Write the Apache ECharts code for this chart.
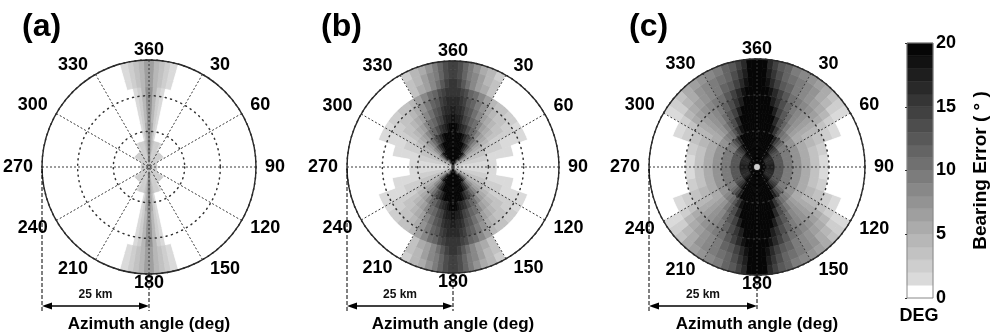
<!DOCTYPE html>
<html><head><meta charset="utf-8">
<script src="https://cdn.jsdelivr.net/npm/echarts@6/dist/echarts.min.js"></script>
<style>html,body{margin:0;padding:0;background:#fff}#c{width:991px;height:335px}</style>
</head><body><div id="c"></div>
<script>
// ---------------- data ----------------
const PANEL_TITLES = ['(a)', '(b)', '(c)'];
const ANGLE_TICKS = [0, 30, 60, 90, 120, 150, 180, 210, 240, 270, 300, 330];
const ANGLE_LABELS = ['360', '30', '60', '90', '120', '150', '180', '210', '240', '270', '300', '330'];
const RADIUS_KM = 25;
const SCALE_LABEL = '25 km';
const AXIS_TITLE = 'Azimuth angle (deg)';
// ring edges (km from centre) and angular bin edges (deg away from the N-S axis)
const RING_EDGES_KM = [0, 2.08, 4.17, 6.25, 8.33, 10.42, 12.5, 14.58, 16.67, 18.75, 20.83, 22.92, 25];
const THETA_EDGES = [0, 3, 6, 9, 12, 16, 20, 25, 30, 35, 40, 45, 50, 55, 60, 70, 80, 90];
// bearing error (deg) per ring (rows, inner->outer) and angular bin (cols)
const ERR_A = [
  [20,14,9,6,4,3,2,2,2,2,2,2,2,2,2,2,2],
  [11,7,5,3,2,2,2,2,2,2,2,2,2,1,0,0,0],
  [9,6,4,3,2,2,2,1,0,0,0,0,0,0,0,0,0],
  [8,5,3,1,0,0,0,0,0,0,0,0,0,0,0,0,0],
  [7,5,2,1,0,0,0,0,0,0,0,0,0,0,0,0,0],
  [7,4,2,1,0,0,0,0,0,0,0,0,0,0,0,0,0],
  [7,4,2,1,0,0,0,0,0,0,0,0,0,0,0,0,0],
  [7,4,2,1,0,0,0,0,0,0,0,0,0,0,0,0,0],
  [7,4,2,1,0,0,0,0,0,0,0,0,0,0,0,0,0],
  [6,4,3,2,1,0,0,0,0,0,0,0,0,0,0,0,0],
  [6,4,3,2,1,0,0,0,0,0,0,0,0,0,0,0,0],
  [6,4,3,2,1,0,0,0,0,0,0,0,0,0,0,0,0]
];
const ERR_B = [
  [20,20,20,20,20,19,17,15,12,10,8,6,5,4,3,2,2],
  [20,20,20,20,20,20,20,20,19,17,13,10,7,5,3,2,1],
  [20,20,20,20,20,20,19,17,15,12,9,7,5,4,3,2,1],
  [20,20,20,20,19,18,16,14,12,10,8,6,5,4,3,2,1],
  [19,19,18,17,16,15,13,11,10,8,6,5,4,3,2,1,1],
  [18,17,17,16,14,13,11,10,8,6,5,4,3,2,2,1,0],
  [17,16,16,15,13,12,10,8,6,5,4,3,3,2,1,1,0],
  [16,16,15,14,12,11,9,7,5,4,3,3,2,2,1,0,0],
  [15,15,14,13,11,10,8,6,4,3,3,2,2,1,1,0,0],
  [15,14,12,10,8,6,5,3,0,0,0,0,0,0,0,0,0],
  [14,13,11,9,8,6,4,3,0,0,0,0,0,0,0,0,0],
  [14,13,11,9,7,5,4,2,0,0,0,0,0,0,0,0,0]
];
const ERR_C = [
  [20,20,20,20,20,20,20,20,20,20,20,20,20,20,20,20,20],
  [20,20,20,20,20,20,20,20,20,19,18,17,16,16,16,16,17],
  [20,20,20,20,20,20,20,20,19,17,15,14,13,12,12,12,12],
  [20,20,20,20,20,20,20,19,17,14,12,10,9,9,9,9,9],
  [20,20,20,20,20,20,18,15,12,10,9,8,7,7,7,7,7],
  [20,20,20,20,20,19,16,13,11,9,7,6,5,5,5,5,5],
  [20,20,20,20,19,17,14,12,10,8,7,6,5,4,4,3,3],
  [20,20,20,19,17,15,13,11,9,8,7,6,5,4,3,2,1],
  [20,20,19,18,16,14,12,10,9,8,7,6,5,3,2,0,0],
  [20,20,18,16,14,12,11,9,8,7,6,5,4,2,1,0,0],
  [20,19,17,15,13,11,10,9,8,7,5,4,2,1,0,0,0],
  [20,19,16,14,12,11,9,8,7,6,5,3,2,1,0,0,0]
];
const CBAR_LEVELS = [0,1,2,3,4,5,6,7,8,9,10,11,12,13,14,15,16,17,18,19];
const CBAR_TICKS = [0, 5, 10, 15, 20];
const CBAR_TITLE = 'Bearing Error ( \u00B0 )';
const CBAR_UNIT = 'DEG';

// ---------------- layout / style ----------------
const FONT = '"Liberation Sans", Arial, sans-serif';
const PANELS = [
  { cx: 149, cy: 167, R: 107, table: ERR_A, titleX: 17 },
  { cx: 453, cy: 167, R: 106, table: ERR_B, titleX: 316 },
  { cx: 757, cy: 167, R: 108, table: ERR_C, titleX: 624 }
];
const BAR_Y = 306;

function grayOf(k) {
  if (k === 0) return '#ffffff';
  const g = Math.round(218 - (k - 1) * (218 - 6) / 18);
  const h = g.toString(16).padStart(2, '0');
  return '#' + h + h + h;
}

function buildCells(table) {
  const out = [];
  for (let i = 0; i < table.length; i++) {
    const r0 = RING_EDGES_KM[i], r1 = RING_EDGES_KM[i + 1];
    for (let j = 0; j < table[i].length; j++) {
      const t0 = THETA_EDGES[j], t1 = THETA_EDGES[j + 1];
      const v = table[i][j];
      out.push([v, r0, r1, t0, t1]);
      out.push([v, r0, r1, 180 - t1, 180 - t0]);
      out.push([v, r0, r1, 180 + t0, 180 + t1]);
      out.push([v, r0, r1, 360 - t1, 360 - t0]);
    }
  }
  return out;
}

function renderCell(params, api) {
  const r0 = api.value(1), r1 = api.value(2), a0 = api.value(3), a1 = api.value(4);
  const n = 4, pts = [];
  for (let i = 0; i <= n; i++) { const p = api.coord([r1, a0 + (a1 - a0) * i / n]); pts.push([p[0], p[1]]); }
  for (let i = n; i >= 0; i--) { const p = api.coord([r0, a0 + (a1 - a0) * i / n]); pts.push([p[0], p[1]]); }
  const c = api.visual('color');
  return { type: 'polygon', shape: { points: pts }, style: { fill: c, stroke: c, lineWidth: 0.8 } };
}

function renderBarCell(params, api) {
  const lv = api.value(0);
  const p0 = api.coord([0, lv]), p1 = api.coord([1, lv + 1]);
  const c = api.visual('color');
  return { type: 'rect', shape: { x: p0[0], y: p1[1], width: p1[0] - p0[0], height: p0[1] - p1[1] },
           style: { fill: c, stroke: c, lineWidth: 0.5 } };
}

const polar = [], angleAxis = [], radiusAxis = [], series = [], graphic = [], title = [];
PANELS.forEach((P, idx) => {
  polar.push({ center: [P.cx, P.cy], radius: P.R });
  angleAxis.push({
    polarIndex: idx, type: 'value', min: 0, max: 360, interval: 30, startAngle: 90, clockwise: true, z: 10,
    axisLine: { show: true, lineStyle: { color: '#2a2a2a', width: 1.4 } },
    axisTick: { show: false },
    axisLabel: { show: true, margin: 3, padding: [0, 6, 0, 6], lineHeight: 13, color: '#000', fontSize: 18, fontWeight: 'bold', fontFamily: FONT,
      formatter: v => { const k = ANGLE_TICKS.indexOf(v); return k >= 0 ? ANGLE_LABELS[k] : ''; } },
    splitLine: { show: true, lineStyle: { color: '#3a3a3a', width: 1, type: [2, 2] } }
  });
  radiusAxis.push({
    polarIndex: idx, type: 'value', min: 0, max: RADIUS_KM, interval: RADIUS_KM / 3, z: 10,
    axisLine: { show: false }, axisTick: { show: false }, axisLabel: { show: false },
    splitLine: { show: true, lineStyle: { color: '#333', width: 1.5, type: [1, 4.5], cap: 'round' } }
  });
  series.push({ type: 'custom', coordinateSystem: 'polar', polarIndex: idx, data: buildCells(P.table),
    renderItem: renderCell, z: 1, silent: true });
  title.push({ text: PANEL_TITLES[idx], left: P.titleX, top: 6,
    textStyle: { fontSize: 32, fontWeight: 'bold', color: '#000', fontFamily: FONT } });
  const L = P.cx - P.R;
  const dash = { stroke: '#000', lineWidth: 1, lineDash: [4, 2] };
  graphic.push(
    { type: 'line', shape: { x1: L, y1: P.cy + 2, x2: L, y2: BAR_Y + 5 }, style: dash, z: 20 },
    { type: 'line', shape: { x1: P.cx, y1: P.cy + P.R, x2: P.cx, y2: BAR_Y + 5 }, style: dash, z: 20 },
    { type: 'line', shape: { x1: L + 6, y1: BAR_Y, x2: P.cx - 6, y2: BAR_Y }, style: { stroke: '#000', lineWidth: 1.5 }, z: 20 },
    { type: 'polygon', shape: { points: [[L, BAR_Y], [L + 10, BAR_Y - 3.5], [L + 10, BAR_Y + 3.5]] }, style: { fill: '#000' }, z: 20 },
    { type: 'polygon', shape: { points: [[P.cx, BAR_Y], [P.cx - 10, BAR_Y - 3.5], [P.cx - 10, BAR_Y + 3.5]] }, style: { fill: '#000' }, z: 20 },
    { type: 'text', x: (L + P.cx) / 2, y: 295, z: 20,
      style: { text: SCALE_LABEL, font: 'bold 12px ' + FONT, fill: '#111', textAlign: 'center', textVerticalAlign: 'middle' } },
    { type: 'text', x: P.cx, y: 324, z: 20,
      style: { text: AXIS_TITLE, font: 'bold 17px ' + FONT, fill: '#000', textAlign: 'center', textVerticalAlign: 'middle' } }
  );
});
// centre marker of panel (c)
series.push({ type: 'scatter', coordinateSystem: 'polar', polarIndex: 2, data: [[0, 0]], symbol: 'circle', symbolSize: 7,
  itemStyle: { color: '#fff', borderColor: '#000', borderWidth: 1.2 }, z: 12, silent: true });
// colour bar
series.push({ type: 'custom', coordinateSystem: 'cartesian2d', xAxisIndex: 0, yAxisIndex: 0,
  data: CBAR_LEVELS.map(l => [l]), renderItem: renderBarCell, z: 1, silent: true });
graphic.push({ type: 'text', x: 919, y: 316, z: 20,
  style: { text: CBAR_UNIT, font: 'bold 18px ' + FONT, fill: '#000', textAlign: 'center', textVerticalAlign: 'middle' } });

const chart = echarts.init(document.getElementById('c'), null, { renderer: 'canvas' });
chart.setOption({
  animation: false,
  backgroundColor: '#fff',
  title: title,
  polar: polar, angleAxis: angleAxis, radiusAxis: radiusAxis,
  grid: [{ left: 907, top: 43, width: 26, height: 255, show: true, borderColor: '#888', borderWidth: 1, z: 10 }],
  xAxis: [{ type: 'value', min: 0, max: 1, show: false }],
  yAxis: [{ type: 'value', min: 0, max: 20, interval: 5, position: 'right', z: 10,
    axisLine: { show: false }, splitLine: { show: false },
    axisTick: { show: true, inside: true, length: 2, lineStyle: { color: '#333' } },
    axisLabel: { margin: 3, color: '#000', fontSize: 18, fontWeight: 'bold', fontFamily: FONT,
      formatter: v => (CBAR_TICKS.indexOf(v) >= 0 ? String(v) : '') },
    name: CBAR_TITLE, nameLocation: 'middle', nameRotate: 90, nameGap: 38,
    nameTextStyle: { fontSize: 19, fontWeight: 'bold', color: '#000', fontFamily: FONT } }],
  visualMap: {
    type: 'piecewise', show: false, dimension: 0, seriesIndex: [0, 1, 2, 4],
    pieces: CBAR_LEVELS.map((k, i) => i === CBAR_LEVELS.length - 1
      ? { gte: k, color: grayOf(k) } : { gte: k, lt: k + 1, color: grayOf(k) })
  },
  graphic: graphic,
  series: series
});
</script></body></html>
